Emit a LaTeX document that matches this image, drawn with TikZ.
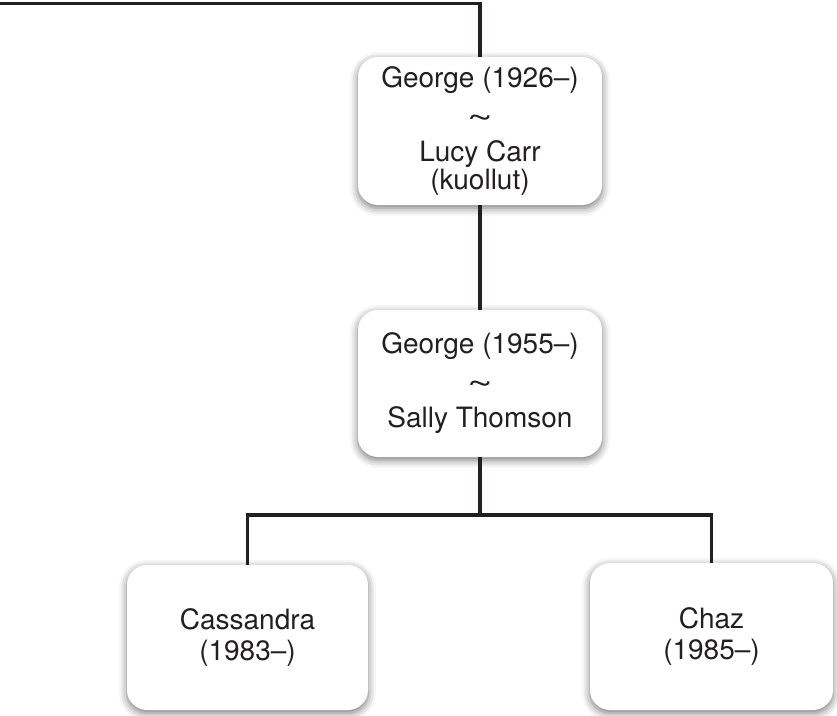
\documentclass[tikz,border=0pt]{standalone}
\usepackage{fontspec}
\setmainfont{TeX Gyre Heros}
\usetikzlibrary{shadows.blur}
\definecolor{ink}{HTML}{231F20}
\newcommand{\tld}{\raisebox{-4pt}{\scalebox{1.6}[1.1]{\char"007E}}}
\tikzset{
  famBox/.style={rectangle, rounded corners=20pt, fill=white, text=ink,
    align=center, inner sep=0pt,
    blur shadow={shadow xshift=0pt, shadow yshift=-3pt, shadow blur radius=8pt, shadow opacity=55},
    font=\fontsize{28}{37}\selectfont},
  kidBox/.style={famBox, font=\fontsize{28}{31}\selectfont},
  link/.style={draw=ink, line width=3.5pt}
}
\begin{document}
\begin{tikzpicture}[x=1pt,y=-1pt]
\useasboundingbox (0,0) rectangle (837,715);
\node[famBox, minimum width=244pt, minimum height=148pt] (b1) at (480,131)
  {George (1926–)\\ \tld\\ Lucy Carr\\[-9pt] (kuollut)};
\node[famBox, minimum width=244pt, minimum height=147pt] (b2) at (480,383.5)
  {George (1955–)\\ \tld\\ Sally Thomson};
\node[kidBox, minimum width=241pt, minimum height=145pt] (cass) at (247.5,637.5)
  {Cassandra\\ (1983–)};
\node[kidBox, minimum width=243pt, minimum height=147pt] (chaz) at (711.5,636.5)
  {Chaz\\ (1985–)};
\coordinate (topleft) at (0,3.5);
\coordinate (mid) at (480,515);
\draw[link] (topleft) -| (b1.north);
\draw[link] (b1.south) -- (b2.north);
\draw[link] (b2.south) -- (mid);
\draw[link] (cass.north) |- (mid) -| (chaz.north);
\end{tikzpicture}
\end{document}
